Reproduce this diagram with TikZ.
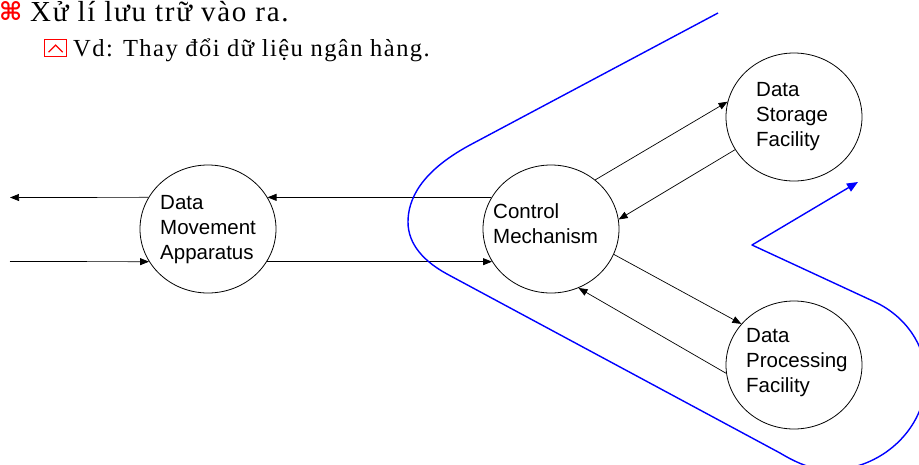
\documentclass[tikz,border=0pt]{standalone}
\usepackage{fontspec}
\setmainfont{Liberation Serif}
\newfontfamily\arialfont{Liberation Sans}
\newfontfamily\symbfont{DejaVu Sans}
\newfontfamily\headfont[LetterSpace=6]{Liberation Serif}
\newfontfamily\subfont[LetterSpace=6]{Liberation Serif}
\usetikzlibrary{shapes.geometric,arrows.meta}

\tikzset{
  proc/.style={draw, ellipse, minimum width=136pt, minimum height=128pt,
               inner sep=0pt, line width=0.8pt},
  lbl/.style={anchor=north west, inner sep=0pt, align=left,
              font=\arialfont\fontsize{20.5}{25}\selectfont},
  flow/.style={line width=0.7pt, -{Triangle[length=9pt,width=7pt]}},
  scope/.style={draw={rgb,255:red,0;green,0;blue,255}, line width=1.4pt,
                line join=round,
                -{Triangle[length=11pt,width=9pt]}},
}

\begin{document}
\begin{tikzpicture}[x=1pt,y=-1pt]
  \useasboundingbox (0,0) rectangle (919,464);
  \clip (0,0) rectangle (919,464);

  % heading lines
  \node[anchor=base west, inner sep=0pt, text=red,
        font=\symbfont\bfseries\fontsize{25}{28}\selectfont] (hmark) at (-1,20) {⌘};
  \node[anchor=base west, inner sep=0pt,
        font=\headfont\fontsize{29}{32}\selectfont] (head) at (30,21)
        {Xử lí lưu trữ vào ra.};
  \node[draw=red, line width=1.3pt, minimum width=22pt, minimum height=17pt,
        inner sep=0pt, anchor=north west] (bul) at (44,39) {};
  \draw[red, line width=1.3pt] ([shift={(-7,4)}]bul.center) -- ([shift={(0,-3)}]bul.center)
        -- ([shift={(7,4)}]bul.center);
  \node[anchor=base west, inner sep=0pt,
        font=\subfont\fontsize{24.5}{28}\selectfont] (sub) at (73,56)
        {Vd: Thay đổi dữ liệu ngân hàng.};

  % processes
  \node[proc] (dma) at (208,229) {};
  \node[proc] (cm)  at (551,229) {};
  \node[proc] (dsf) at (794,117) {};
  \node[proc] (dpf) at (794,365) {};

  \node[lbl] (dmat) at (160,195) {Data\\Movement\\Apparatus};
  \node[lbl] (cmt)  at (493,203) {Control\\Mechanism};
  \node[lbl] (dsft) at (756,82)  {Data\\Storage\\Facility};
  \node[lbl] (dpft) at (746,328) {Data\\Processing\\Facility};

  % outside ends of the data movement lines
  \coordinate (outA) at (10,197.5);
  \coordinate (inB)  at (10,261.5);

  % flows
  \draw[flow] (dma.152) -- (outA);
  \draw[flow] (inB) -- (dma.209);
  \draw[flow] (cm.152) -- (dma.28);
  \draw[flow] (dma.-29) -- (cm.209);
  \draw[flow] (cm.48) -- (dsf.167);
  \draw[flow] (dsf.209) -- (cm.8.5);
  \draw[flow] (cm.-22) -- (dpf.142);
  \draw[flow] (dpf.187) -- (cm.-65.5);

  % boundary of the control part
  \draw[scope] (718,13) -- (470,145)
    .. controls (420,172) and (408,200) .. (408,222)
    .. controls (408,245) and (425,262) .. (447,274)
    -- (780,453)
    .. controls (795,462) and (812,470) .. (830,470)
    .. controls (880,470) and (926,430) .. (926,378)
    .. controls (926,345) and (905,316) .. (875,302)
    -- (752,245) -- (858,182);
\end{tikzpicture}
\end{document}
